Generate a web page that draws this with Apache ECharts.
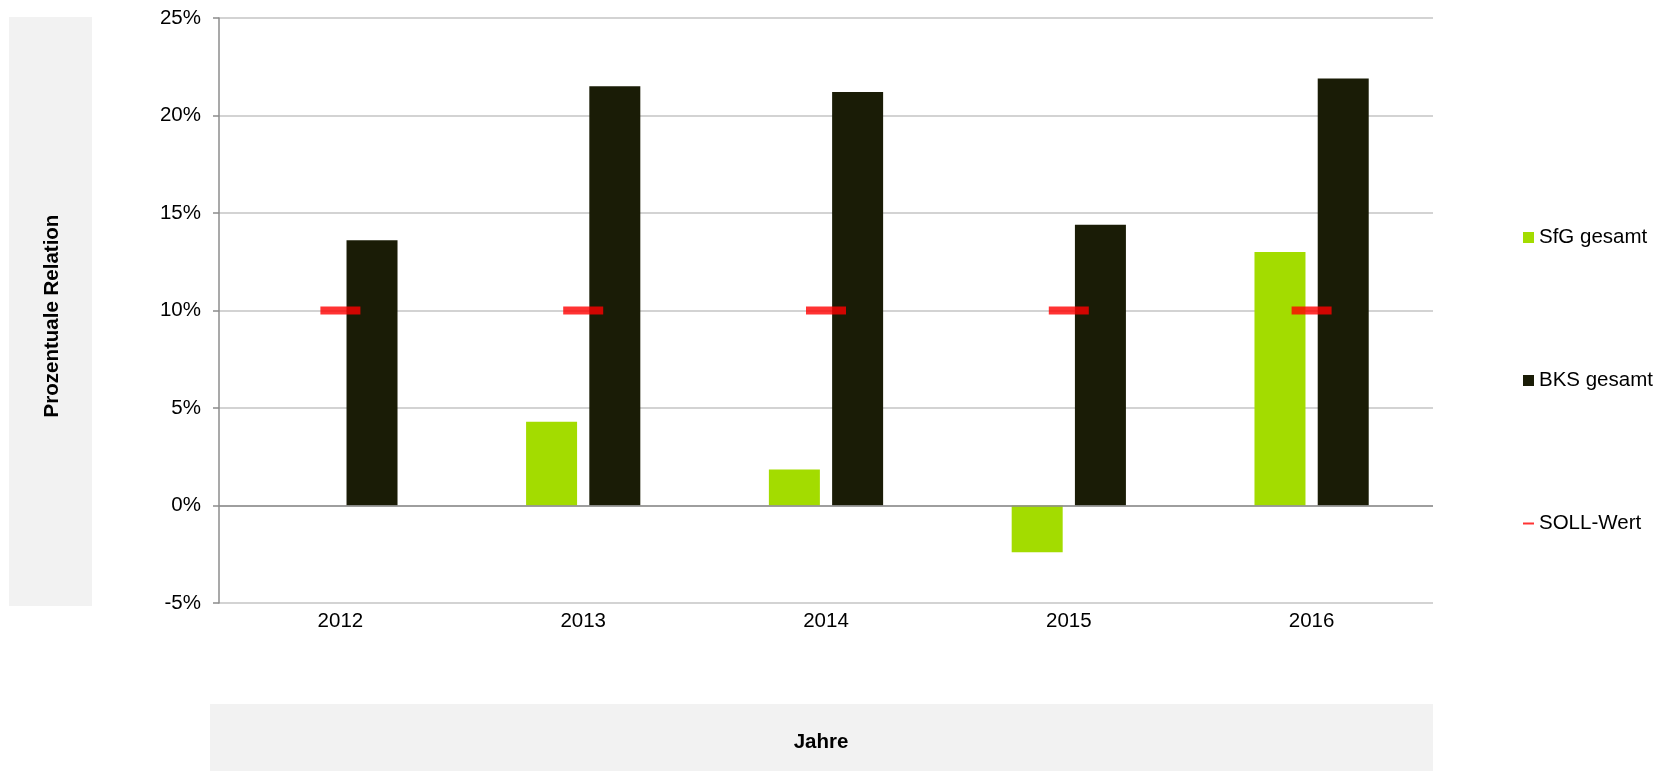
<!DOCTYPE html>
<html><head><meta charset="utf-8">
<script src="https://cdn.jsdelivr.net/npm/echarts@6/dist/echarts.min.js"></script>
<style>html,body{margin:0;padding:0;background:#fff}#c{width:1664px;height:771px}</style>
</head><body><div id="c"></div>
<script>
const categories = ['2012','2013','2014','2015','2016'];
const sfgValues = [null, 4.3, 1.85, -2.4, 13.0];
const bksValues = [13.6, 21.5, 21.2, 14.4, 21.9];
const sollValues = [10, 10, 10, 10, 10];
const seriesNames = ['SfG gesamt','BKS gesamt','SOLL-Wert'];
const yTitle = 'Prozentuale Relation';
const xTitle = 'Jahre';

const chart = echarts.init(document.getElementById('c'));
const font = 'Liberation Sans, Arial, sans-serif';
const fs = 20.5;
chart.setOption({
  animation: false,
  textStyle: {fontFamily: font},
  graphic: [
    {type:'rect', shape:{x:9,y:17,width:83,height:589}, style:{fill:'#f2f2f2'}, z:-10},
    {type:'text', x:52, y:316, rotation:Math.PI/2, style:{text:yTitle, fill:'#000', font:'bold '+fs+'px '+font, textAlign:'center', textVerticalAlign:'middle'}},
    {type:'rect', shape:{x:210,y:704,width:1223,height:67}, style:{fill:'#f2f2f2'}, z:-10},
    {type:'text', x:821, y:742, style:{text:xTitle, fill:'#000', font:'bold '+fs+'px '+font, textAlign:'center', textVerticalAlign:'middle'}}
  ],
  grid: {left:219, right:231, top:18, bottom:168, containLabel:false},
  legend: {
    orient:'vertical', left:1518, top:222, itemGap:122, itemWidth:11, itemHeight:11,
    textStyle:{fontSize:fs, color:'#000', fontFamily:font, lineHeight:21, padding:[0,0,0,0]},
    data:[
      {name:seriesNames[0], icon:'rect'},
      {name:seriesNames[1], icon:'rect'},
      {name:seriesNames[2], icon:'path://M0,9 L11,9 L11,11 L0,11 Z'}
    ]
  },
  xAxis: {
    type:'category', data:categories,
    axisLine:{show:false}, axisTick:{show:false},
    axisLabel:{fontSize:fs, color:'#000', margin:8}
  },
  yAxis: {
    type:'value', min:-5, max:25, interval:5,
    axisLine:{show:true, lineStyle:{color:'#8c8c8c', width:1.5}},
    axisTick:{show:true, length:6, lineStyle:{color:'#8c8c8c', width:1.5}},
    axisLabel:{fontSize:fs, color:'#000', formatter:'{value}%', margin:18},
    splitLine:{lineStyle:{color:'#c4c4c4', width:1.5}}
  },
  series: [
    {name:seriesNames[0], type:'bar', data:sfgValues, barWidth:51, barGap:'24%',
     itemStyle:{color:'#a3dc00'},
     markLine:{silent:true, symbol:'none', label:{show:false},
       lineStyle:{color:'#8c8c8c', width:1.5, type:'solid'}, data:[{yAxis:0}]}},
    {name:seriesNames[1], type:'bar', data:bksValues, barWidth:51,
     itemStyle:{color:'#1a1c06'}},
    {name:seriesNames[2], type:'scatter', data:sollValues, symbol:'rect',
     symbolSize:[40,8], itemStyle:{color:'#ff0000'}, z:10}
  ]
});
</script></body></html>
